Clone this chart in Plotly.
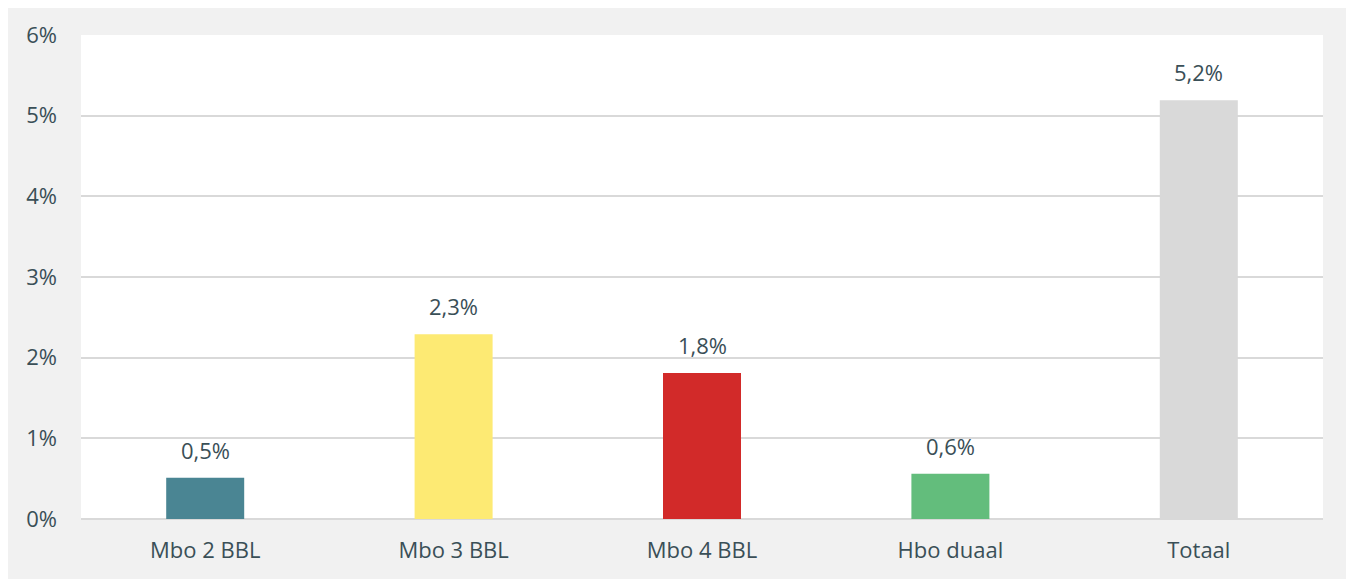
import plotly.graph_objects as go

categories = ["Mbo 2 BBL", "Mbo 3 BBL", "Mbo 4 BBL", "Hbo duaal", "Totaal"]
values = [0.51, 2.29, 1.81, 0.56, 5.19]
colors = ["#4a8593", "#fdea73", "#d22a29", "#63bd7c", "#d9d9d9"]
y_ticks = [0, 1, 2, 3, 4, 5, 6]
y_tick_labels = [f"{v}%" for v in y_ticks]
labels = [f"{v:.1f}".replace(".", ",") + "%" for v in values]

text_color = "#3a4f57"
font_family = "'Open Sans', Lato, sans-serif"
fs = 22

W, H = 1346, 571
L, R, T, B = 73, 31, 27, 60

fig = go.Figure()
fig.add_trace(go.Bar(
    x=categories, y=values, marker=dict(color=colors, line=dict(width=0)),
    hoverinfo="skip", showlegend=False,
))

for c, v, t in zip(categories, values, labels):
    fig.add_annotation(x=c, y=v, text=t, showarrow=False, yanchor="bottom",
                       yshift=11, font=dict(size=fs, color=text_color, family=font_family))

fig.update_layout(
    width=W, height=H,
    margin=dict(l=L, r=R, t=T, b=B, pad=0),
    paper_bgcolor="#f1f1f1", plot_bgcolor="white",
    bargap=0.686,
    font=dict(family=font_family, size=fs, color=text_color),
)
fig.update_xaxes(showgrid=False, zeroline=False, showline=False, ticks="",
                 tickfont=dict(size=fs, color=text_color), ticklabelstandoff=16,
                 fixedrange=True)
fig.update_yaxes(range=[0, 6], tickvals=y_ticks, ticktext=y_tick_labels,
                 showgrid=True, gridcolor="#d9d9d9", gridwidth=1.5,
                 zeroline=True, zerolinecolor="#d9d9d9", zerolinewidth=1.5,
                 showline=False, ticks="", tickfont=dict(size=fs, color=text_color),
                 ticklabelstandoff=23, fixedrange=True)

fig.write_html("out.html")
